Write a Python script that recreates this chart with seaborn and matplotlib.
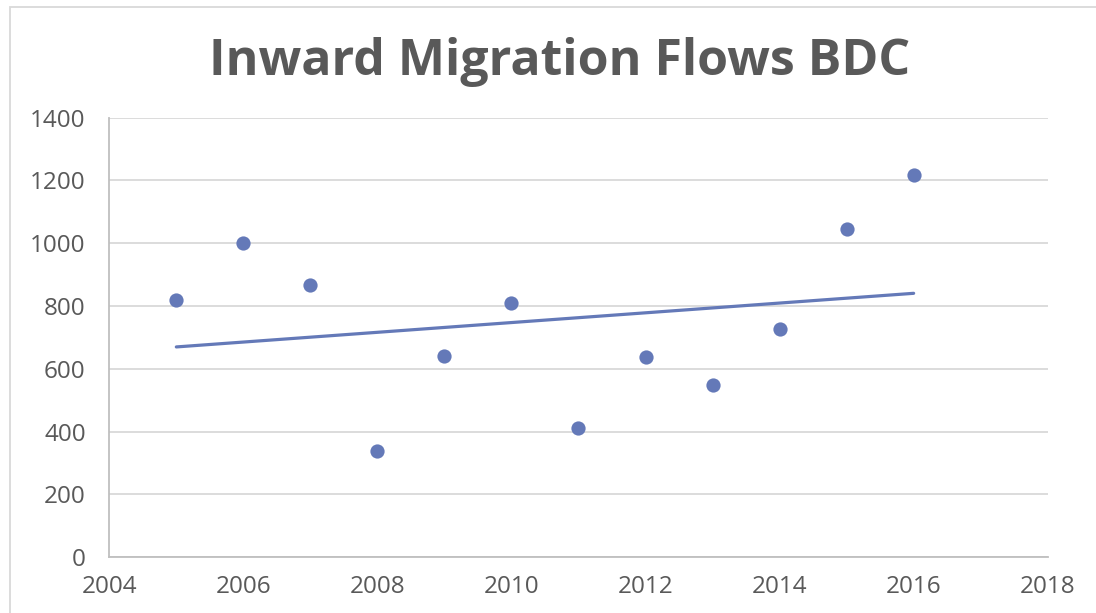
import numpy as np
import pandas as pd
import matplotlib
matplotlib.use("Agg")
import matplotlib.pyplot as plt
from matplotlib.patches import Rectangle
import seaborn as sns

# Data
years = [2005, 2006, 2007, 2008, 2009, 2010, 2011, 2012, 2013, 2014, 2015, 2016]
inflows = [818, 1000, 868, 339, 640, 808, 413, 638, 548, 728, 1044, 1216]

df = pd.DataFrame({"year": years, "inflow": inflows})

point_color = "#6479B8"
text_color = "#595959"
grid_color = "#D9D9D9"

sns.set_style("white")
plt.rcParams["font.family"] = ["Open Sans", "DejaVu Sans"]

W, H = 1096, 613
fig = plt.figure(figsize=(W / 100, H / 100), dpi=100)
ax = fig.add_axes([109.3 / W, 1 - 557.3 / H, (1047.7 - 109.3) / W, (557.3 - 117.5) / H])

# Scatter with linear trend line over the data range
sns.regplot(data=df, x="year", y="inflow", ax=ax, ci=None, truncate=True,
            scatter_kws={"s": 105, "color": point_color, "alpha": 1, "linewidths": 0, "zorder": 3},
            line_kws={"color": point_color, "linewidth": 2.3, "zorder": 2})

ax.set_xlim(2004, 2018)
ax.set_ylim(0, 1400)
ax.set_xticks(range(2004, 2019, 2))
ax.set_yticks(range(0, 1401, 200))
ax.set_xlabel("")
ax.set_ylabel("")

ax.yaxis.grid(True, color=grid_color, linewidth=1.3)
ax.set_axisbelow(True)
for side in ["top", "right"]:
    ax.spines[side].set_visible(False)
for side in ["left", "bottom"]:
    ax.spines[side].set_color("#BFBFBF")
    ax.spines[side].set_linewidth(1.3)
ax.tick_params(axis="both", length=0, labelsize=17.5, labelcolor=text_color)
ax.tick_params(axis="y", pad=17)
ax.tick_params(axis="x", pad=13)

fig.text(560 / W, 1 - 75 / H, "Inward Migration Flows BDC", ha="center", va="baseline",
         fontsize=36, fontweight="bold", color=text_color)

# Outer chart border (runs off the right and bottom edges)
fig.patches.append(Rectangle((10 / W, -0.1), 1.2, (H - 7.3) / H + 0.1,
                             transform=fig.transFigure, fill=False,
                             edgecolor=grid_color, linewidth=1.3))

fig.savefig("out.png", dpi=100)
